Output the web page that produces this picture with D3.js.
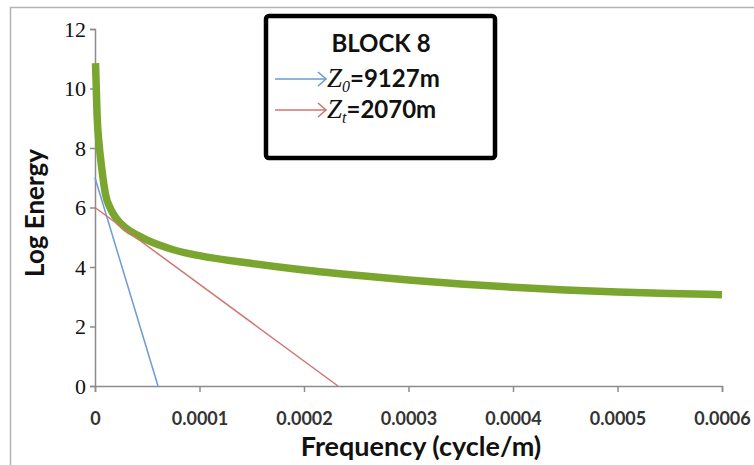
<!DOCTYPE html>
<html>
<head>
<meta charset="utf-8">
<script src="https://cdn.jsdelivr.net/npm/d3@7"></script>
<style>
  body { margin: 0; background: #fff; }
  svg { display: block; }
</style>
</head>
<body>
<div id="chart"></div>
<script>
// spectrum (green)
var freq = [0.0000005, 0.000002, 0.000004, 0.000006, 0.000008, 0.00001, 0.000015, 0.00002, 0.00003, 0.00004, 0.00005, 0.000075,
  0.0001, 0.00015, 0.0002, 0.00025, 0.0003, 0.00035, 0.0004, 0.00045, 0.0005, 0.00055, 0.0006];
var logEnergy = [10.85, 9.1, 8.1, 7.45, 6.9, 6.45, 5.95, 5.65, 5.3, 5.08, 4.9, 4.58,
  4.38, 4.12, 3.9, 3.72, 3.56, 3.43, 3.32, 3.23, 3.16, 3.11, 3.07];

// fitted depth lines
var deepLine = [[0, 7.0], [0.0000603, 0]];     // Z0 = 9127m
var shallowLine = [[0, 6.0], [0.0002325, 0]];  // Zt = 2070m

var xTicks = [0, 0.0001, 0.0002, 0.0003, 0.0004, 0.0005, 0.0006];
var yTicks = [0, 2, 4, 6, 8, 10, 12];

var legendTitle = "BLOCK 8";
var legendItems = [
  { sub: "0", label: "=9127m", color: "#6d9bd1" },
  { sub: "t", label: "=2070m", color: "#cf7672" }
];

var W = 754, H = 465;
var margin = { top: 29, right: 32, bottom: 79, left: 95 },
  width = W - margin.left - margin.right,
  height = H - margin.top - margin.bottom;

var svgRoot = d3.select("#chart").append("svg")
  .attr("width", W)
  .attr("height", H);

// outer frame (only left and top edges show)
svgRoot.append("path")
  .attr("d", "M10.5," + H + "V7.5H" + W)
  .attr("fill", "none")
  .attr("stroke", "#b4b4b4")
  .attr("stroke-width", 1.5);

var svg = svgRoot.append("g")
  .attr("transform", "translate(" + margin.left + "," + margin.top + ")");

var x = d3.scaleLinear().domain([0, 0.0006]).range([0, width]);
var y = d3.scaleLinear().domain([0, 12]).range([height, 0]);

// axes
var xAxis = svg.append("g")
  .attr("transform", "translate(0," + height + ")")
  .call(d3.axisBottom(x).tickValues(xTicks).tickSize(6).tickPadding(20)
    .tickFormat(function (d) { return d === 0 ? "0" : d3.format(".4f")(d); }));
xAxis.select(".domain").attr("stroke", "#8c8c8c").attr("stroke-width", 1.5);
xAxis.selectAll(".tick line").attr("stroke", "#8c8c8c").attr("stroke-width", 1.5);
xAxis.selectAll("text")
  .attr("font-family", "Lato, sans-serif")
  .attr("font-weight", "bold")
  .attr("font-size", 18)
  .attr("fill", "#333");

var yAxis = svg.append("g")
  .call(d3.axisLeft(y).tickValues(yTicks).tickSize(5).tickPadding(4));
yAxis.select(".domain").attr("stroke", "#8c8c8c").attr("stroke-width", 1.5);
yAxis.selectAll(".tick line").attr("stroke", "#8c8c8c").attr("stroke-width", 1.5);
yAxis.selectAll("text")
  .attr("font-family", "'Liberation Serif', serif")
  .attr("font-size", 22)
  .attr("fill", "#111");

// data lines
var line = d3.line()
  .x(function (d) { return x(d[0]); })
  .y(function (d) { return y(d[1]); });

svg.append("path")
  .datum(freq.map(function (f, i) { return [f, logEnergy[i]]; }))
  .attr("fill", "none")
  .attr("stroke", "#7aa630")
  .attr("stroke-width", 7.5)
  .attr("d", line.curve(d3.curveMonotoneX));

line.curve(d3.curveLinear);
svg.append("path")
  .datum(deepLine)
  .attr("fill", "none")
  .attr("stroke", legendItems[0].color)
  .attr("stroke-width", 1.5)
  .attr("d", line);

svg.append("path")
  .datum(shallowLine)
  .attr("fill", "none")
  .attr("stroke", legendItems[1].color)
  .attr("stroke-width", 1.5)
  .attr("d", line);

// axis titles
svgRoot.append("text")
  .attr("x", 421)
  .attr("y", 456)
  .attr("text-anchor", "middle")
  .attr("font-family", "Lato, sans-serif")
  .attr("font-weight", "bold")
  .attr("font-size", 27)
  .attr("fill", "#111")
  .text("Frequency (cycle/m)");

svgRoot.append("text")
  .attr("transform", "translate(44,213)rotate(-90)")
  .attr("text-anchor", "middle")
  .attr("font-family", "Lato, sans-serif")
  .attr("font-weight", "bold")
  .attr("font-size", 26)
  .attr("fill", "#111")
  .text("Log Energy");

// legend box
var lg = svgRoot.append("g");
lg.append("rect")
  .attr("x", 266)
  .attr("y", 16)
  .attr("width", 229)
  .attr("height", 142)
  .attr("rx", 3)
  .attr("fill", "#fff")
  .attr("stroke", "#000")
  .attr("stroke-width", 4.5);

lg.append("text")
  .attr("x", 381)
  .attr("y", 52)
  .attr("text-anchor", "middle")
  .attr("font-family", "Lato, sans-serif")
  .attr("font-weight", "bold")
  .attr("font-size", 24)
  .attr("fill", "#111")
  .text(legendTitle);

var item = lg.selectAll("g.item")
  .data(legendItems)
  .enter().append("g")
  .attr("class", "item")
  .attr("transform", function (d, i) { return "translate(0," + (i * 31) + ")"; });

item.append("line")
  .attr("x1", 275).attr("x2", 326)
  .attr("y1", 79).attr("y2", 79)
  .attr("stroke", function (d) { return d.color; })
  .attr("stroke-width", 1.6);

item.append("path")
  .attr("d", "M318,72L326,79L318,86")
  .attr("fill", "none")
  .attr("stroke", function (d) { return d.color; })
  .attr("stroke-width", 1.6);

var t = item.append("text")
  .attr("x", 327)
  .attr("y", 87)
  .attr("fill", "#111");
t.append("tspan")
  .attr("font-family", "'Liberation Serif', serif")
  .attr("font-style", "italic")
  .attr("font-size", 27)
  .text("Z");
t.append("tspan")
  .attr("font-family", "'Liberation Serif', serif")
  .attr("font-style", "italic")
  .attr("font-size", 16)
  .attr("dy", 5)
  .text(function (d) { return d.sub; });
t.append("tspan")
  .attr("font-family", "Lato, sans-serif")
  .attr("font-weight", "bold")
  .attr("font-size", 24)
  .attr("dy", -5)
  .text(function (d) { return d.label; });
</script>
</body>
</html>
